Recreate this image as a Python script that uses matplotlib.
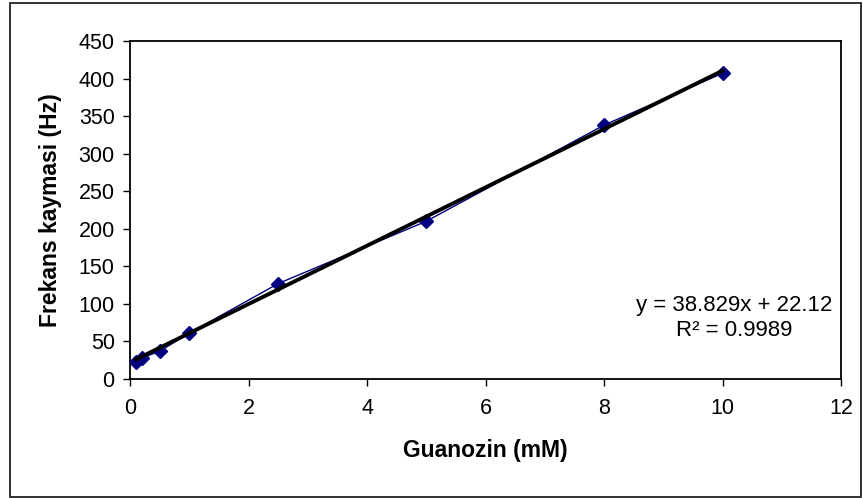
import numpy as np
import matplotlib
matplotlib.use("Agg")
import matplotlib.pyplot as plt
from matplotlib.patches import Rectangle

plt.rcParams['font.family'] = ['Liberation Sans', 'DejaVu Sans']

# data
guanozin = [0.1, 0.2, 0.5, 1.0, 2.5, 5.0, 8.0, 10.0]
frekans = [23, 28, 37, 61, 127, 210, 338, 407]
slope, intercept = 38.829, 22.12
r2 = 0.9989

fig = plt.figure(figsize=(8.63, 4.98), dpi=100)
ax = fig.add_axes([130/863, 1 - 379/498, 711/863, 338/498])

# outer chart frame
fig.patches.append(Rectangle((10/863, 1/498), 851/863, 494/498, transform=fig.transFigure,
                             fill=False, edgecolor='#222222', linewidth=1.3))

ax.plot(guanozin, frekans, color='#000080', linewidth=1.0, marker='D',
        markersize=7, markerfacecolor='#000080', markeredgecolor='#000080', zorder=3)

# linear trend line
xs = np.array([guanozin[0], guanozin[-1]])
ax.plot(xs, slope * xs + intercept, color='black', linewidth=2.8, zorder=4)

ax.set_xlim(0, 12)
ax.set_ylim(0, 450)
ax.set_xticks(range(0, 13, 2))
ax.set_yticks(range(0, 451, 50))
ax.tick_params(direction='out', length=5, width=1, labelsize=15.5, pad=6)
ax.tick_params(axis='x', pad=9)
for s in ax.spines.values():
    s.set_linewidth(1.3)

ax.set_xlabel('Guanozin (mM)', fontsize=16.5, fontweight='bold', labelpad=14)
ax.set_ylabel('Frekans kaymasi (Hz)', fontsize=16.5, fontweight='bold', labelpad=12)

ax.text(832/863, 1 - 318/498, 'y = %.3fx + %.2f\nR\u00b2 = %.4f' % (slope, intercept, r2),
        transform=fig.transFigure, ha='right', va='center', multialignment='center',
        fontsize=16, linespacing=1.3)

fig.savefig('out.png', dpi=100)
